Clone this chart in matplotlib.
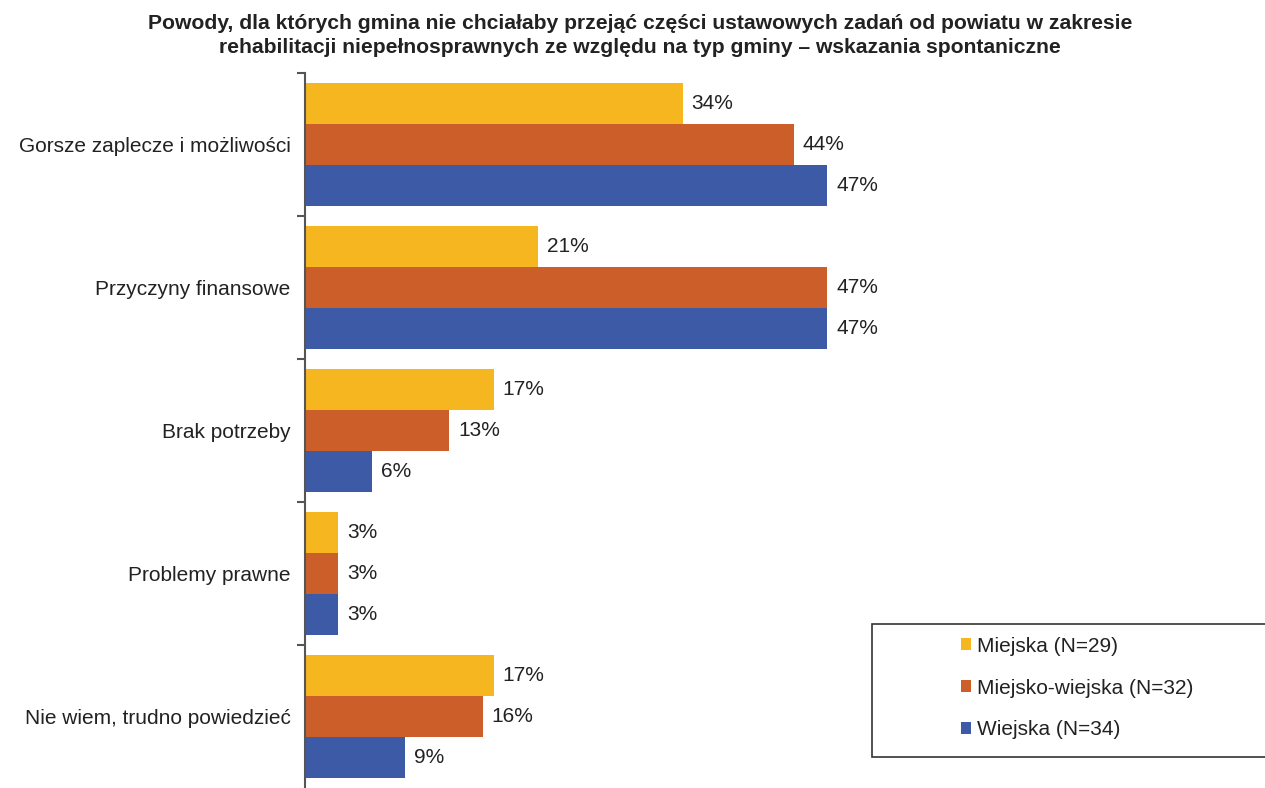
import numpy as np
import matplotlib
matplotlib.use("Agg")
import matplotlib.pyplot as plt
from matplotlib.patches import Patch, Rectangle

plt.rcParams['font.family'] = ['Liberation Sans', 'DejaVu Sans']

# data
categories = ["Gorsze zaplecze i możliwości", "Przyczyny finansowe", "Brak potrzeby",
              "Problemy prawne", "Nie wiem, trudno powiedzieć"]
series_names = ["Miejska (N=29)", "Miejsko-wiejska (N=32)", "Wiejska (N=34)"]
miejska = [34, 21, 17, 3, 17]
miejsko_wiejska = [44, 47, 13, 3, 16]
wiejska = [47, 47, 6, 3, 9]
colors = ["#F6B61F", "#CC5F29", "#3C5AA5"]

fig = plt.figure(figsize=(12.65, 7.88), dpi=100)
ax = fig.add_axes([305 / 1265, 0.0, 1 - 305 / 1265, 1 - 73 / 788])

n = len(categories)
y = np.arange(n)
bar_h = 0.287
values = [miejska, miejsko_wiejska, wiejska]
for i, (vals, col) in enumerate(zip(values, colors)):
    pos = y + (i - 1) * bar_h
    ax.barh(pos, vals, height=bar_h, color=col, edgecolor="none")
    for p, v in zip(pos, vals):
        ax.text(v + 0.8, p, f"{v}%", va="center", ha="left", fontsize=15, color="#222222")

ax.set_ylim(n - 0.5, -0.5)
ax.set_xlim(0, 86.4)
ax.set_yticks(y)
ax.set_yticklabels(categories, fontsize=15, color="#222222")
ax.tick_params(axis="y", which="major", length=0, pad=10.5)
ax.set_yticks(np.arange(-0.5, n - 0.5, 1.0), minor=True)
ax.tick_params(axis="y", which="minor", length=6, width=1.5, color="#555555", direction="out")
ax.set_xticks([])
for s in ["top", "right", "bottom"]:
    ax.spines[s].set_visible(False)
ax.spines["left"].set_color("#555555")
ax.spines["left"].set_linewidth(1.5)

fig.text(0.506, 0.982, "Powody, dla których gmina nie chciałaby przejąć części ustawowych zadań od powiatu w zakresie\n"
         "rehabilitacji niepełnosprawnych ze względu na typ gminy – wskazania spontaniczne",
         ha="center", va="top", fontsize=15.2, fontweight="bold", color="#222222", linespacing=1.32)

# legend box
fig.patches.append(Rectangle((872 / 1265, 31 / 788), 0.4, 133 / 788, transform=fig.transFigure,
                             facecolor="white", edgecolor="#333333", linewidth=1.2))
handles = [Patch(facecolor=c, edgecolor="none") for c in colors]
fig.legend(handles, series_names, loc="upper left", bbox_to_anchor=(946 / 1265, 1 - 622 / 788),
           frameon=False, fontsize=15, handlelength=0.5, handleheight=0.5, handletextpad=0.3,
           labelspacing=1.1, borderpad=0.2, labelcolor="#222222")

fig.savefig("out.png", dpi=100)
